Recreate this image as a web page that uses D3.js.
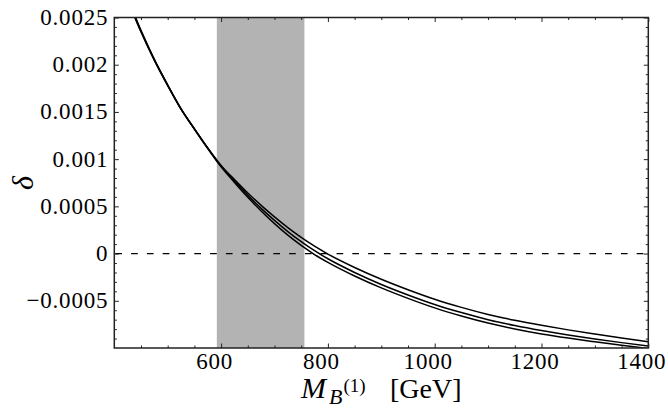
<!DOCTYPE html>
<html>
<head>
<meta charset="utf-8">
<script src="https://cdn.jsdelivr.net/npm/d3@7"></script>
<style>
  html, body { margin: 0; padding: 0; background: #fff; }
  svg { display: block; }
</style>
</head>
<body>
<svg id="chart" width="668" height="408"></svg>
<script>
// ---- data ----
const massValues = [430, 450, 475, 500, 525, 550, 575, 600, 625, 650, 675, 700, 725, 750, 775, 800,
                    850, 900, 950, 1000, 1050, 1100, 1150, 1200, 1250, 1300, 1350, 1400];
// delta in units of 1e-3
const deltaUpper  = [2.636, 2.364, 2.057, 1.786, 1.533, 1.323, 1.120, 0.934, 0.783, 0.642, 0.511, 0.389, 0.275, 0.171, 0.078, -0.005,
                     -0.147, -0.272, -0.383, -0.484, -0.570, -0.645, -0.707, -0.760, -0.808, -0.852, -0.894, -0.933];
const deltaMiddle = [2.624, 2.354, 2.051, 1.782, 1.531, 1.320, 1.116, 0.926, 0.768, 0.618, 0.479, 0.351, 0.233, 0.126, 0.030, -0.055,
                     -0.200, -0.327, -0.438, -0.539, -0.625, -0.700, -0.762, -0.815, -0.862, -0.904, -0.943, -0.979];
const deltaLower  = [2.614, 2.346, 2.046, 1.779, 1.529, 1.317, 1.112, 0.918, 0.753, 0.596, 0.451, 0.317, 0.195, 0.086, -0.010, -0.093,
                     -0.237, -0.363, -0.474, -0.575, -0.661, -0.736, -0.798, -0.851, -0.895, -0.934, -0.971, -1.005];
const bandRange = [592, 756];
const xDomain = [400, 1400];
const yDomain = [-0.001, 0.0025];
const xTickValues = [600, 800, 1000, 1200, 1400];
const xTickLabels = ["600", "800", "1000", "1200", "1400"];
const yTickValues = [-0.0005, 0, 0.0005, 0.001, 0.0015, 0.002, 0.0025];
const yTickLabels = ["\u22120.0005", "0", "0.0005", "0.001", "0.0015", "0.002", "0.0025"];

// ---- layout ----
const SERIF = "'Liberation Serif', serif";
const L = 114.3, R = 648.3, T = 17.5, B = 348;
const svg = d3.select("#chart");
const x = d3.scaleLinear().domain(xDomain).range([L, R]);
const y = d3.scaleLinear().domain(yDomain).range([B, T]);

svg.append("defs").append("clipPath").attr("id", "plotclip")
  .append("rect").attr("x", L).attr("y", T).attr("width", R - L).attr("height", B - T);

const plot = svg.append("g").attr("clip-path", "url(#plotclip)");

// shaded band
plot.append("rect")
  .attr("x", x(bandRange[0])).attr("y", T)
  .attr("width", x(bandRange[1]) - x(bandRange[0]))
  .attr("height", B - T)
  .attr("fill", "#b3b3b3");

// dashed zero line
plot.append("line")
  .attr("x1", L).attr("x2", R)
  .attr("y1", y(0)).attr("y2", y(0))
  .attr("stroke", "#000").attr("stroke-width", 1.2)
  .attr("stroke-dasharray", "6.7 9.1")
  .attr("stroke-dashoffset", -1);

// curves
const line = d3.line()
  .x(d => x(d[0]))
  .y(d => y(d[1] * 1e-3))
  .curve(d3.curveMonotoneX);
[deltaUpper, deltaMiddle, deltaLower].forEach(series => {
  plot.append("path")
    .datum(massValues.map((m, i) => [m, series[i]]))
    .attr("d", line)
    .attr("fill", "none")
    .attr("stroke", "#000")
    .attr("stroke-width", 1.5);
});

// ---- axes (ticks inward on all four sides) ----
const xMinor = d3.range(450, 1400, 50).filter(v => !xTickValues.includes(v));
const yMinor = d3.range(-9, 25, 1).map(v => v * 1e-4)
  .filter(v => !yTickValues.some(t => Math.abs(t - v) < 1e-9));
const majorLen = 4.5, minorLen = 2.5;

function styleAxis(g) {
  g.select(".domain").remove();
  g.selectAll(".tick line").attr("stroke", "#222").attr("stroke-width", 1);
  g.selectAll(".tick text").remove();
}

const axes = [
  [d3.axisBottom(x), `translate(0,${B})`, xTickValues, xMinor],
  [d3.axisTop(x), `translate(0,${T})`, xTickValues, xMinor],
  [d3.axisLeft(y), `translate(${L},0)`, yTickValues, yMinor],
  [d3.axisRight(y), `translate(${R},0)`, yTickValues, yMinor]
];
axes.forEach(([ax, tr, major, minor]) => {
  svg.append("g").attr("transform", tr)
    .call(ax.tickValues(major).tickFormat("").tickSize(-majorLen)).call(styleAxis);
  svg.append("g").attr("transform", tr)
    .call(ax.tickValues(minor).tickFormat("").tickSize(-minorLen)).call(styleAxis);
});

// frame
svg.append("rect")
  .attr("x", L).attr("y", T).attr("width", R - L).attr("height", B - T)
  .attr("fill", "none").attr("stroke", "#222").attr("stroke-width", 1.5);

// tick labels
const labels = svg.append("g")
  .style("font-family", SERIF).style("font-size", "23px").style("fill", "#000");
labels.selectAll("text.xl").data(xTickValues).join("text")
  .attr("class", "xl")
  .attr("x", d => x(d) - 6.5)
  .attr("y", B + 20.7)
  .attr("text-anchor", "middle")
  .style("letter-spacing", "0.8px")
  .text((d, i) => xTickLabels[i]);
labels.selectAll("text.yl").data(yTickValues).join("text")
  .attr("class", "yl")
  .attr("x", L - 6)
  .attr("y", d => y(d) + 7.5)
  .attr("text-anchor", "end")
  .style("letter-spacing", "0.8px")
  .text((d, i) => yTickLabels[i]);

// ---- axis titles ----
const xt = svg.append("text").attr("x", 301).attr("y", 398)
  .style("font-family", SERIF).style("font-size", "30px").style("fill", "#000");
xt.append("tspan").style("font-style", "italic").text("M");
xt.append("tspan").style("font-style", "italic").style("font-size", "22px").attr("dx", 3).attr("dy", 6).text("B");
xt.append("tspan").style("font-size", "19px").attr("dx", 1).attr("dy", -12).text("(1)");
xt.append("tspan").style("font-size", "28px").attr("x", 390).attr("y", 398).text("[GeV]");

svg.append("text")
  .attr("transform", "translate(33,183) rotate(-90)")
  .attr("text-anchor", "middle")
  .style("font-family", SERIF).style("font-size", "30px").style("font-style", "italic").style("fill", "#000")
  .text("\u03b4");
</script>
</body>
</html>
